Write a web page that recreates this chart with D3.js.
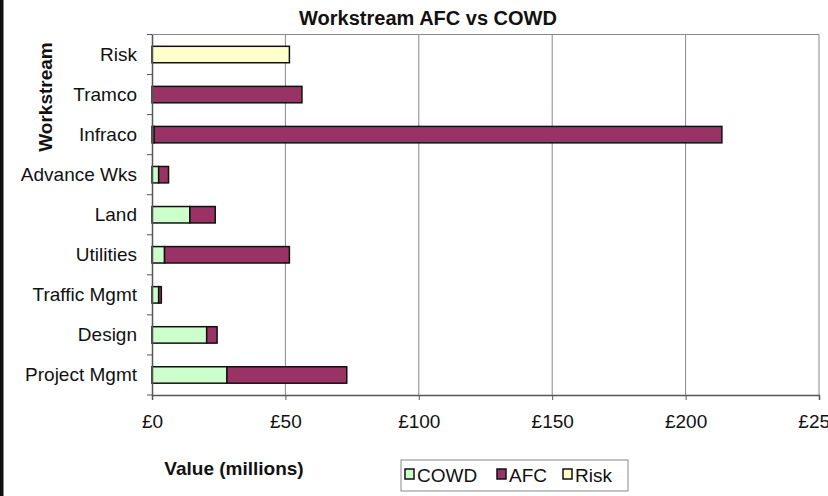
<!DOCTYPE html>
<html>
<head>
<meta charset="utf-8">
<script src="https://cdn.jsdelivr.net/npm/d3@7"></script>
<style>
  html, body { margin: 0; padding: 0; background: #fff; }
  svg { display: block; font-family: "Liberation Sans", Arial, sans-serif; }
</style>
</head>
<body>
<svg id="chart" width="828" height="496"></svg>
<script>
// Workstreams, listed top to bottom
const categories = ["Risk", "Tramco", "Infraco", "Advance Wks", "Land", "Utilities", "Traffic Mgmt", "Design", "Project Mgmt"];
// Values in £ millions
const cowd = [0, 0, 0.8, 2.5, 14.2, 4.7, 2.5, 20.5, 28.1];
const afc  = [0, 56.2, 212.8, 3.7, 9.5, 46.8, 1.0, 3.9, 44.9];
const risk = [51.5, 0, 0, 0, 0, 0, 0, 0, 0];
const seriesNames = ["COWD", "AFC", "Risk"];
const seriesColors = ["#ccffcc", "#993366", "#ffffcc"];
const xTicks = [0, 50, 100, 150, 200, 250];

const svg = d3.select("#chart");
const W = 828, H = 496;
const m = { left: 152, top: 34.5, right: 819, bottom: 395 };

// left frame edge
svg.append("rect").attr("x", 0).attr("y", 0).attr("width", 3.5).attr("height", H).attr("fill", "#111");

const rows = categories.map((c, i) => ({ cat: c, COWD: cowd[i], AFC: afc[i], Risk: risk[i] }));
const stacked = d3.stack().keys(seriesNames)(rows);

const x = d3.scaleLinear().domain([0, 250]).range([m.left, m.right]);
const y = d3.scaleBand().domain(categories).range([m.top, m.bottom])
  .paddingInner(0.59).paddingOuter(0.295);
const color = d3.scaleOrdinal().domain(seriesNames).range(seriesColors);

// vertical gridlines
svg.append("g").selectAll("line").data(xTicks.slice(1)).join("line")
  .attr("x1", d => x(d)).attr("x2", d => x(d))
  .attr("y1", m.top).attr("y2", m.bottom)
  .attr("stroke", "#888").attr("stroke-width", 1);
// top border of plot area
svg.append("line").attr("x1", m.left).attr("x2", m.right).attr("y1", m.top).attr("y2", m.top)
  .attr("stroke", "#888").attr("stroke-width", 1);

// stacked bars
svg.append("g").selectAll("g").data(stacked).join("g")
  .attr("fill", d => color(d.key))
  .selectAll("rect").data(d => d.filter(p => p[1] - p[0] > 0)).join("rect")
  .attr("x", p => x(p[0]))
  .attr("width", p => x(p[1]) - x(p[0]))
  .attr("y", p => y(p.data.cat))
  .attr("height", y.bandwidth())
  .attr("stroke", "#111").attr("stroke-width", 1.5);

// x axis
const xAxis = svg.append("g").attr("transform", `translate(0,${m.bottom})`)
  .call(d3.axisBottom(x).tickValues(xTicks).tickFormat(d => "£" + d).tickSize(5).tickPadding(15));
xAxis.select(".domain").attr("stroke", "#555").attr("stroke-width", 1.5);
xAxis.selectAll(".tick line").attr("stroke", "#555");
xAxis.selectAll("text").attr("font-size", 19).attr("fill", "#111")
  .attr("font-family", "'Liberation Sans', Arial, sans-serif");

// y axis: tick marks at category boundaries
const yAxis = svg.append("g").attr("transform", `translate(${m.left},0)`)
  .call(d3.axisLeft(y).tickSize(0).tickPadding(15));
yAxis.select(".domain").attr("stroke", "#555").attr("stroke-width", 1.5);
yAxis.selectAll("text").attr("font-size", 19).attr("fill", "#111")
  .attr("font-family", "'Liberation Sans', Arial, sans-serif");
const step = y.step();
svg.append("g").selectAll("line").data(d3.range(categories.length + 1)).join("line")
  .attr("x1", m.left - 5).attr("x2", m.left)
  .attr("y1", i => m.top + i * step).attr("y2", i => m.top + i * step)
  .attr("stroke", "#555");

// titles
svg.append("text").attr("x", 428).attr("y", 25).attr("text-anchor", "middle")
  .attr("font-size", 20).attr("font-weight", "bold").attr("fill", "#111")
  .text("Workstream AFC vs COWD");
svg.append("text").attr("transform", "translate(52,97) rotate(-90)").attr("text-anchor", "middle")
  .attr("font-size", 19).attr("font-weight", "bold").attr("fill", "#111")
  .text("Workstream");
svg.append("text").attr("x", 234).attr("y", 475).attr("text-anchor", "middle")
  .attr("font-size", 19).attr("font-weight", "bold").attr("fill", "#111")
  .text("Value (millions)");

// legend
const lg = svg.append("g");
lg.append("rect").attr("x", 401).attr("y", 460).attr("width", 227).attr("height", 31)
  .attr("fill", "#fff").attr("stroke", "#888").attr("stroke-width", 1);
const legendX = [405, 497, 563];
const items = lg.selectAll("g.item").data(seriesNames).join("g").attr("class", "item")
  .attr("transform", (d, i) => `translate(${legendX[i]},469)`);
items.append("rect").attr("width", 9).attr("height", 10)
  .attr("fill", d => color(d)).attr("stroke", "#111").attr("stroke-width", 1.5);
items.append("text").attr("x", 12).attr("y", 13).attr("font-size", 19).attr("fill", "#111")
  .text(d => d);
</script>
</body>
</html>
